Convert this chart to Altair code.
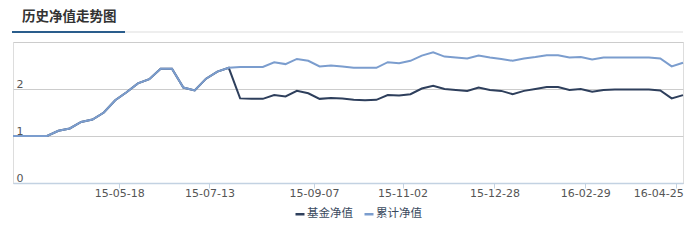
import altair as alt
import pandas as pd

# ---- data ----
fund_nav = [1.00, 1.00, 1.00, 1.00, 1.11, 1.16, 1.30, 1.35, 1.50, 1.76,
            1.93, 2.12, 2.21, 2.43, 2.43, 2.03, 1.97, 2.22, 2.37, 2.45,
            1.80, 1.79, 1.79, 1.87, 1.84, 1.96, 1.91, 1.79, 1.81, 1.80,
            1.77, 1.76, 1.77, 1.87, 1.86, 1.89, 2.01, 2.07, 2.00, 1.98,
            1.96, 2.03, 1.98, 1.96, 1.89, 1.96, 2.00, 2.04, 2.04, 1.98,
            2.00, 1.94, 1.98, 1.99, 1.99, 1.99, 1.99, 1.97, 1.80, 1.87]
cum_nav = [1.00, 1.00, 1.00, 1.00, 1.11, 1.16, 1.30, 1.35, 1.50, 1.76,
           1.93, 2.12, 2.21, 2.43, 2.43, 2.03, 1.97, 2.22, 2.37, 2.45,
           2.47, 2.47, 2.47, 2.57, 2.53, 2.64, 2.60, 2.48, 2.50, 2.48,
           2.45, 2.45, 2.45, 2.57, 2.55, 2.60, 2.71, 2.78, 2.69, 2.67,
           2.65, 2.71, 2.67, 2.64, 2.60, 2.65, 2.68, 2.72, 2.72, 2.67,
           2.68, 2.63, 2.67, 2.67, 2.67, 2.67, 2.67, 2.65, 2.48, 2.56]
series_names = ["基金净值", "累计净值"]
series_colors = ["#2e3f5c", "#7b9dce"]
tick_labels = ["15-05-18", "15-07-13", "15-09-07", "15-11-02", "15-12-28", "16-02-29", "16-04-25"]
tick_index = [9.36, 17.3, 26.5, 34.3, 42.4, 50.4, 58.4]
y_ticks = [0, 1, 2, 3]
title_text = "历史净值走势图"

rows = []
for i, v in enumerate(fund_nav):
    rows.append({"idx": i, "series": series_names[0], "value": v, "order": 0})
for i, v in enumerate(cum_nav):
    rows.append({"idx": i, "series": series_names[1], "value": v, "order": 1})
df = pd.DataFrame(rows)

W, H = 670, 141

labels_js = "[" + ",".join(f"'{t}'" for t in tick_labels) + "]"
pos_js = "[" + ",".join(str(p) for p in tick_index) + "]"
last_tick = tick_index[-1]

lines = alt.Chart(df).mark_line(strokeWidth=2, interpolate="linear").encode(
    x=alt.X("idx:Q",
            scale=alt.Scale(domain=[0, len(fund_nav) - 1], nice=False, zero=False),
            axis=alt.Axis(values=tick_index, title=None, grid=False,
                          labelExpr=f"{labels_js}[indexof({pos_js}, datum.value)]",
                          domainColor="#c3d2e2", domainWidth=1.5,
                          tickColor="#c3d2e2", tickSize=5,
                          labelFont="DejaVu Sans", labelFontSize=11, labelColor="#555555",
                          labelPadding=-1, labelFlush=False,
                          labelAlign={"condition": {"test": f"datum.value >= {last_tick}", "value": "right"},
                                      "value": "center"},
                          labelOffset={"condition": {"test": f"datum.value >= {last_tick}", "value": 7},
                                       "value": 0})),
    y=alt.Y("value:Q",
            scale=alt.Scale(domain=[0, 3], nice=False),
            axis=alt.Axis(values=y_ticks, title=None, domain=False, ticks=False, tickSize=0,
                          gridColor="#cccccc", gridWidth=1,
                          labelAlign="left", labelBaseline="alphabetic",
                          labelPadding=-3, labelOffset=-2,
                          labelExpr="datum.value == 3 ? '' : datum.label",
                          labelFont="DejaVu Sans", labelFontSize=11, labelColor="#555555")),
    color=alt.Color("series:N",
                    scale=alt.Scale(domain=series_names, range=series_colors),
                    legend=alt.Legend(title=None, orient="none", legendX=281, legendY=166,
                                      direction="horizontal", symbolType="stroke",
                                      symbolSize=81, symbolStrokeWidth=2.5,
                                      labelFont="Noto Sans CJK SC", labelFontSize=11.5,
                                      labelColor="#3a4a5e", labelOffset=1,
                                      columnPadding=6)),
    order=alt.Order("order:Q"),
)

deco = pd.DataFrame({"t": [title_text]})
title = alt.Chart(deco).mark_text(align="left", baseline="middle", font="Noto Sans CJK SC",
                                  fontSize=13.5, fontWeight="bold", color="#333333").encode(
    x=alt.value(9), y=alt.value(-25), text="t:N")
underline_grey = alt.Chart(deco).mark_rule(color="#eeeeee", strokeWidth=2).encode(
    x=alt.value(112), x2=alt.value(W), y=alt.value(-10))
underline_blue = alt.Chart(deco).mark_rule(color="#2a5d8c", strokeWidth=2).encode(
    x=alt.value(-1), x2=alt.value(112), y=alt.value(-10))

chart = alt.layer(lines, underline_grey, underline_blue, title).properties(
    width=W, height=H,
    autosize=alt.AutoSizeParams(type="none"),
    padding={"left": 13, "top": 42, "right": 17, "bottom": 62},
).configure_view(stroke=None).configure(background="white")

chart.save("out.html", embed_options={"renderer": "svg", "actions": False})
